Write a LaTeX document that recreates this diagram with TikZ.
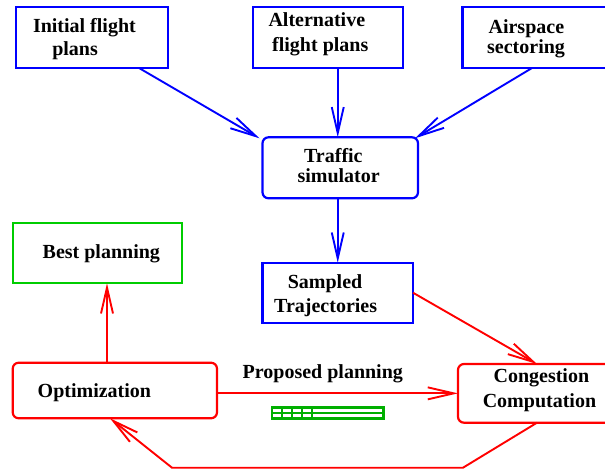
\documentclass[tikz,border=0pt]{standalone}
\usepackage{fontspec}
\setmainfont{Liberation Serif}
\usetikzlibrary{arrows.meta}
\definecolor{myblue}{RGB}{0,0,255}
\definecolor{myred}{RGB}{255,0,0}
\definecolor{mygreen}{RGB}{0,205,0}
\definecolor{bargreen}{RGB}{0,175,0}
\begin{document}
\begin{tikzpicture}[x=1pt,y=-1pt,
  box/.style={draw, line width=2.2pt, anchor=north west, inner sep=0pt, outer sep=0pt},
  rbox/.style={box, rounded corners=6pt},
  txt/.style={anchor=base west, inner sep=0pt, font=\bfseries\fontsize{20}{24}\selectfont},
  barr/.style={draw=myblue, line width=1.9pt, -{Straight Barb[length=26pt,width=12pt]}},
  rarr/.style={draw=myred, line width=1.9pt, -{Straight Barb[length=26pt,width=12pt]}}]
\useasboundingbox (0,0) rectangle (605,471);
% boxes
\node[box, draw=myblue, minimum width=152pt, minimum height=61pt] (b1) at (16,7) {};
\node[box, draw=myblue, minimum width=150pt, minimum height=61pt] (b2) at (253,7) {};
\node[box, draw=myblue, minimum width=160pt, minimum height=61pt] (b3) at (462.5,7) {};
\node[rbox, draw=myblue, minimum width=155.5pt, minimum height=61pt] (ts) at (262.5,137.3) {};
\node[box, draw=myblue, minimum width=150.5pt, minimum height=60pt] (ss) at (262.5,262.7) {};
\node[box, draw=mygreen, minimum width=169.3pt, minimum height=60.6pt] (bp) at (12.7,222.7) {};
\node[rbox, draw=myred, minimum width=204.3pt, minimum height=55.6pt] (op) at (12.7,362.7) {};
\node[rbox, draw=myred, minimum width=160pt, minimum height=58.7pt] (cc) at (458,364) {};
% texts
\node[txt] (t1a) at (32.8,32.3) {Initial flight};
\node[txt] (t1b) at (52.1,55) {plans};
\node[txt] (t2a) at (268.3,26.7) {Alternative};
\node[txt] (t2b) at (272,51.7) {flight plans};
\node[txt] (t3a) at (488.4,33.3) {Airspace};
\node[txt] (t3b) at (487,53.3) {sectoring};
\node[txt] (tsa) at (303.9,162.7) {Traffic};
\node[txt] (tsb) at (297.3,182.7) {simulator};
\node[txt] (bpt) at (42.5,258.3) {Best planning};
\node[txt] (ssa) at (287.6,288.3) {Sampled};
\node[txt] (ssb) at (274,312.7) {Trajectories};
\node[txt] (ppl) at (242.5,378.3) {Proposed planning};
\node[txt] (opt) at (37.5,397.3) {Optimization};
\node[txt] (cca) at (493.4,382.7) {Congestion};
\node[txt] (ccb) at (482.6,407.3) {Computation};
% blue connectors
\draw[barr] ([xshift=47pt]b1.south) -- ([xshift=-3pt,yshift=-1pt]ts.north west);
\draw[barr] (b2.south -| ss.north) -- (ts.north -| ss.north);
\draw[barr] ([xshift=69.5pt]b3.south west) -- ([xshift=-3pt,yshift=-1pt]ts.north east);
\draw[barr] (ts.south -| ss.north) -- (ss.north);
% red connectors
\coordinate (sc) at ([xshift=79pt]cc.north west);
\draw[rarr] (ss.east) -- (sc);
\draw[rarr] (op.east |- cc.west) -- (cc.west);
\coordinate (ob) at ([xshift=94.3pt]op.north west);
\draw[rarr] (ob) -- (ob |- bp.south);
\coordinate (cs) at ([xshift=79pt]cc.south west);
\coordinate (fb1) at (463,467.7);
\coordinate (fb2) at (172,467.7);
\coordinate (oe) at ([xshift=97.3pt]op.south west);
\draw[rarr] (cs) -- (fb1) -- (fb2) -- (oe);
% green bar
\begin{scope}[draw=bargreen, line width=2.3pt]
\draw (272,407.5) rectangle (383.5,418.5);
\draw (272,413) -- (383.5,413);
\foreach \xx in {282.3,292.3,302.3,312.3} \draw (\xx,407.5) -- (\xx,418.5);
\end{scope}
\end{tikzpicture}
\end{document}
